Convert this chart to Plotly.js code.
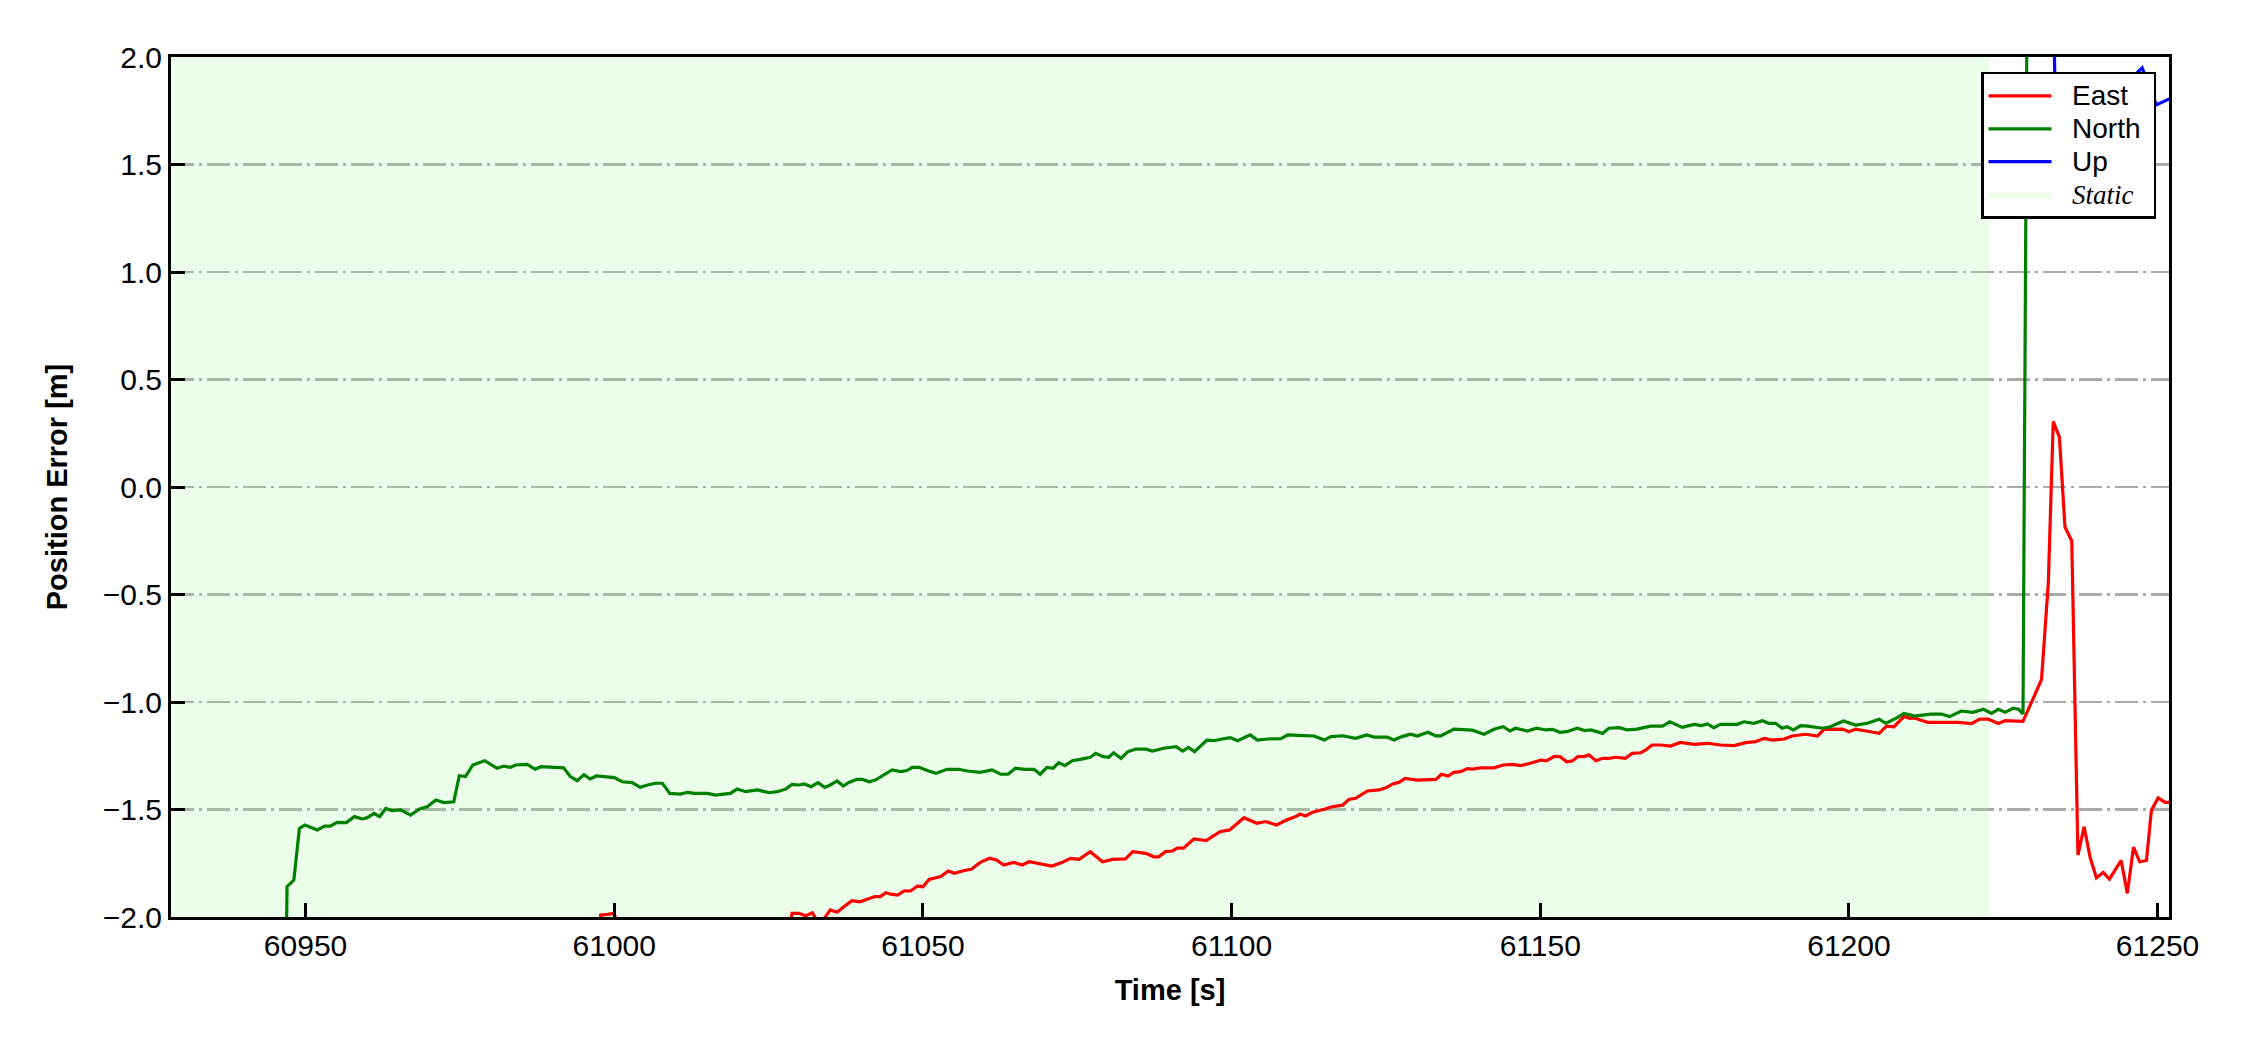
<!DOCTYPE html>
<html><head><meta charset="utf-8">
<script src="https://cdn.plot.ly/plotly-3.0.1.min.js"></script>
<style>html,body{margin:0;padding:0;background:#fff}#chart{width:2250px;height:1050px}</style>
</head><body><div id="chart"></div>
<script>
// ---- data ----
const eastT = [60996.8,60997.8,60998.9,61000.0,61001.0,61028.0,61028.8,61029.9,61031.0,61032.1,61032.9,61033.7,61035.0,61036.1,61037.2,61038.5,61039.8,61041.0,61042.2,61043.1,61044.0,61044.8,61045.9,61047.0,61048.0,61049.1,61050.0,61051.0,61052.9,61054.1,61055.1,61056.4,61057.9,61059.3,61060.8,61061.9,61063.1,61064.7,61066.1,61067.2,61069.1,61070.9,61072.5,61073.9,61075.3,61077.1,61079.1,61080.7,61082.8,61084.0,61086.1,61087.4,61088.2,61089.3,61090.4,61091.2,61092.2,61093.9,61095.9,61098.1,61099.7,61102.0,61104.1,61105.5,61107.3,61108.9,61110.4,61111.1,61112.0,61113.1,61115.0,61116.3,61118.0,61119.0,61120.1,61122.0,61123.9,61125.0,61126.1,61127.1,61128.1,61130.1,61133.1,61134.0,61135.1,61136.0,61137.1,61138.2,61139.0,61140.4,61142.5,61144.0,61145.5,61146.8,61148.4,61150.1,61151.0,61152.2,61153.2,61154.3,61155.2,61156.1,61157.1,61157.9,61159.0,61160.1,61161.1,61162.2,61163.8,61164.9,61166.3,61167.1,61168.1,61169.5,61171.1,61172.7,61174.9,61177.1,61179.2,61181.4,61183.3,61184.9,61186.3,61187.6,61189.5,61190.8,61193.0,61194.9,61196.0,61199.0,61200.0,61201.1,61203.0,61204.9,61206.1,61207.3,61208.9,61209.9,61210.6,61212.8,61215.0,61217.7,61219.9,61221.2,61222.6,61224.2,61225.3,61228.2,61231.2,61232.3,61233.1,61234.1,61235.0,61236.1,61237.1,61238.1,61239.1,61240.1,61241.2,61242.2,61244.1,61245.1,61246.1,61247.1,61248.2,61249.0,61250.1,61251.2,61252.0];
const eastV = [-2.3,-1.991,-1.988,-1.983,-2.1,-2.1,-1.983,-1.983,-1.994,-1.980,-2.02,-2.02,-1.967,-1.978,-1.952,-1.924,-1.929,-1.918,-1.905,-1.905,-1.887,-1.894,-1.898,-1.878,-1.879,-1.856,-1.859,-1.825,-1.812,-1.786,-1.797,-1.786,-1.777,-1.746,-1.727,-1.735,-1.758,-1.746,-1.758,-1.743,-1.755,-1.763,-1.747,-1.727,-1.732,-1.696,-1.743,-1.732,-1.730,-1.696,-1.704,-1.720,-1.720,-1.696,-1.693,-1.680,-1.680,-1.637,-1.645,-1.603,-1.595,-1.538,-1.564,-1.556,-1.572,-1.549,-1.533,-1.521,-1.530,-1.513,-1.499,-1.487,-1.480,-1.453,-1.448,-1.414,-1.409,-1.399,-1.381,-1.374,-1.355,-1.363,-1.360,-1.336,-1.344,-1.327,-1.324,-1.310,-1.312,-1.306,-1.306,-1.293,-1.290,-1.296,-1.285,-1.270,-1.274,-1.254,-1.254,-1.278,-1.274,-1.254,-1.254,-1.246,-1.273,-1.262,-1.262,-1.257,-1.262,-1.239,-1.236,-1.223,-1.200,-1.200,-1.205,-1.188,-1.197,-1.192,-1.200,-1.203,-1.189,-1.184,-1.169,-1.177,-1.172,-1.158,-1.150,-1.158,-1.127,-1.126,-1.138,-1.126,-1.136,-1.146,-1.112,-1.115,-1.068,-1.076,-1.074,-1.095,-1.095,-1.095,-1.100,-1.080,-1.080,-1.100,-1.087,-1.090,-0.896,-0.447,0.305,0.232,-0.186,-0.251,-1.712,-1.581,-1.726,-1.818,-1.793,-1.824,-1.737,-1.890,-1.675,-1.743,-1.737,-1.503,-1.446,-1.467,-1.467];

const northT = [60946.0,60947.0,60948.1,60949.0,60949.9,60951.9,60953.1,60954.0,60955.1,60956.6,60957.9,60959.2,60960.0,60961.1,60962.0,60963.0,60964.0,60965.4,60967.0,60968.4,60969.7,60971.1,60972.4,60974.0,60974.9,60975.9,60977.1,60979.0,60981.0,60982.1,60983.2,60984.0,60985.9,60987.2,60988.1,60991.8,60992.9,60994.0,60995.1,60996.1,60997.1,61000.0,61001.3,61002.9,61004.2,61005.4,61006.7,61007.8,61009.0,61010.7,61011.9,61012.9,61015.1,61016.4,61018.8,61019.9,61021.3,61023.2,61025.1,61026.4,61027.8,61028.8,61029.9,61030.8,61031.9,61033.0,61034.1,61035.0,61036.1,61037.1,61038.0,61039.3,61040.2,61041.3,61042.3,61043.7,61045.0,61046.4,61047.4,61048.3,61049.4,61050.7,61052.1,61053.9,61055.8,61057.2,61059.3,61061.2,61062.6,61063.8,61065.0,61066.6,61068.0,61069.0,61070.1,61071.1,61072.0,61073.0,61074.2,61075.5,61077.1,61078.0,61079.2,61080.1,61080.9,61082.1,61083.2,61084.5,61086.1,61087.2,61089.0,61091.0,61092.1,61093.0,61094.0,61096.0,61097.1,61098.5,61099.8,61101.0,61103.0,61104.2,61105.8,61108.0,61109.1,61110.7,61113.4,61115.0,61116.1,61118.0,61120.1,61121.9,61123.1,61125.2,61126.3,61127.6,61129.0,61130.1,61131.8,61133.1,61133.9,61136.0,61137.6,61139.0,61140.9,61142.5,61144.0,61145.1,61146.0,61147.9,61149.4,61150.9,61152.0,61153.2,61154.3,61156.0,61157.2,61158.2,61160.1,61161.1,61162.8,61164.1,61165.7,61167.9,61169.8,61171.0,61173.0,61174.9,61176.1,61177.1,61178.1,61179.2,61181.9,61183.0,61184.6,61186.0,61187.0,61188.1,61189.2,61190.0,61191.0,61192.2,61193.3,61195.7,61197.0,61199.1,61201.1,61203.0,61204.9,61206.0,61207.6,61208.9,61209.9,61210.6,61213.3,61215.0,61216.3,61218.2,61220.1,61221.8,61223.1,61224.2,61225.3,61226.6,61227.5,61228.2,61229.2];
const northV = [-4.0,-1.859,-1.828,-1.588,-1.572,-1.595,-1.577,-1.577,-1.560,-1.561,-1.533,-1.544,-1.538,-1.518,-1.533,-1.495,-1.505,-1.502,-1.526,-1.499,-1.487,-1.456,-1.468,-1.464,-1.343,-1.347,-1.293,-1.273,-1.308,-1.298,-1.304,-1.293,-1.290,-1.313,-1.301,-1.306,-1.347,-1.366,-1.338,-1.358,-1.344,-1.352,-1.371,-1.375,-1.397,-1.386,-1.378,-1.378,-1.425,-1.428,-1.420,-1.425,-1.425,-1.433,-1.425,-1.405,-1.417,-1.409,-1.422,-1.417,-1.405,-1.383,-1.386,-1.381,-1.394,-1.375,-1.397,-1.386,-1.367,-1.391,-1.374,-1.360,-1.360,-1.371,-1.363,-1.340,-1.316,-1.324,-1.319,-1.304,-1.304,-1.319,-1.332,-1.313,-1.313,-1.321,-1.327,-1.316,-1.336,-1.336,-1.308,-1.313,-1.313,-1.336,-1.304,-1.308,-1.282,-1.296,-1.273,-1.267,-1.257,-1.239,-1.254,-1.257,-1.236,-1.262,-1.231,-1.219,-1.219,-1.228,-1.215,-1.208,-1.228,-1.211,-1.231,-1.177,-1.180,-1.172,-1.166,-1.180,-1.153,-1.177,-1.172,-1.170,-1.153,-1.155,-1.158,-1.177,-1.161,-1.157,-1.169,-1.153,-1.163,-1.163,-1.177,-1.161,-1.150,-1.158,-1.141,-1.158,-1.158,-1.126,-1.130,-1.131,-1.150,-1.127,-1.115,-1.135,-1.122,-1.135,-1.122,-1.130,-1.127,-1.141,-1.138,-1.122,-1.133,-1.130,-1.146,-1.122,-1.119,-1.130,-1.126,-1.112,-1.112,-1.092,-1.118,-1.104,-1.110,-1.102,-1.119,-1.104,-1.104,-1.092,-1.099,-1.087,-1.099,-1.099,-1.122,-1.115,-1.130,-1.110,-1.112,-1.122,-1.115,-1.088,-1.107,-1.099,-1.080,-1.099,-1.076,-1.053,-1.060,-1.066,-1.056,-1.056,-1.068,-1.042,-1.048,-1.034,-1.053,-1.034,-1.048,-1.029,-1.034,-1.056,4.0];

const upT = [61231.9,61233.4,61236.0,61240.0,61244.0,61247.5,61249.8,61250.8,61251.9];
const upV = [4.0,1.85,1.72,1.76,1.85,1.95,1.777,1.79,1.805];

const staticInterval = [60928.2, 61222.8];

const seriesNames = ['East','North','Up'];
const seriesColors = ['#ff0000','#008000','#0000ff'];
const staticLabel = 'Static';
const staticColor = 'rgba(152,251,152,0.2)';

const xRange = [60928.2, 61251.85];
const yRange = [-2, 2];
const xTickVals = [60950,61000,61050,61100,61150,61200,61250];
const xTickText = ['60950','61000','61050','61100','61150','61200','61250'];
const yTickVals = [-2,-1.5,-1,-0.5,0,0.5,1,1.5,2];
const yTickText = ['\u22122.0','\u22121.5','\u22121.0','\u22120.5','0.0','0.5','1.0','1.5','2.0'];

// ---- legend label styling ----
const lead = '\u00a0\u00a0';
const trail = '\u00a0';
const lg = s => '<span style="font-size:28px">' + lead + s + trail + '</span>';
const staticName = '<span style="font-size:28px">' + lead + '<span style="font-family:\'Liberation Serif\',\'Times New Roman\',serif;font-style:italic;font-size:27px">' + staticLabel + '</span>' + trail + '</span>';

// ---- traces ----
const traces = [
  {x:[staticInterval[0],staticInterval[1],staticInterval[1],staticInterval[0]],
   y:[yRange[0],yRange[0],yRange[1],yRange[1]],
   type:'scatter', mode:'lines', fill:'toself', fillcolor:staticColor,
   line:{width:0, color:staticColor}, name:staticName, legendrank:4, hoverinfo:'skip'},
  {x:eastT, y:eastV, type:'scatter', mode:'lines', name:lg(seriesNames[0]), line:{color:seriesColors[0], width:3.2}, legendrank:1},
  {x:northT, y:northV, type:'scatter', mode:'lines', name:lg(seriesNames[1]), line:{color:seriesColors[1], width:3.2}, legendrank:2},
  {x:upT, y:upV, type:'scatter', mode:'lines', name:lg(seriesNames[2]), line:{color:seriesColors[2], width:3.2}, legendrank:3}
];

const axisCommon = {
  ticks:'inside', ticklen:14, tickwidth:3, tickcolor:'black',
  showline:true, linewidth:3, linecolor:'black', mirror:true,
  zeroline:false, tickfont:{size:30, color:'black'}
};

const layout = {
  width:2250, height:1050,
  margin:{l:171, r:81, t:57, b:133, pad:0},
  paper_bgcolor:'white', plot_bgcolor:'white',
  font:{family:'"Liberation Sans", Arial, sans-serif', size:30, color:'black'},
  xaxis:Object.assign({}, axisCommon, {
    range:xRange, tickmode:'array', tickvals:xTickVals, ticktext:xTickText,
    showgrid:false,
    title:{text:'<b>Time [s]</b>', font:{size:29, color:'black'}, standoff:19}
  }),
  yaxis:Object.assign({}, axisCommon, {
    range:yRange, tickmode:'array', tickvals:yTickVals, ticktext:yTickText,
    showgrid:true, gridcolor:'#aaaaaa', gridwidth:2.5, griddash:'23px,5px,3px,5px',
    title:{text:'<b>Position Error [m]</b>', font:{size:29, color:'black'}, standoff:27}
  }),
  legend:{x:0.9935, y:0.9826, xanchor:'right', yanchor:'top',
    bgcolor:'white', bordercolor:'black', borderwidth:2.5,
    font:{size:23, color:'black'}, itemwidth:63, tracegroupgap:0},
  showlegend:true
};

Plotly.newPlot('chart', traces, layout, {displayModeBar:false, staticPlot:true});
</script>
</body></html>
